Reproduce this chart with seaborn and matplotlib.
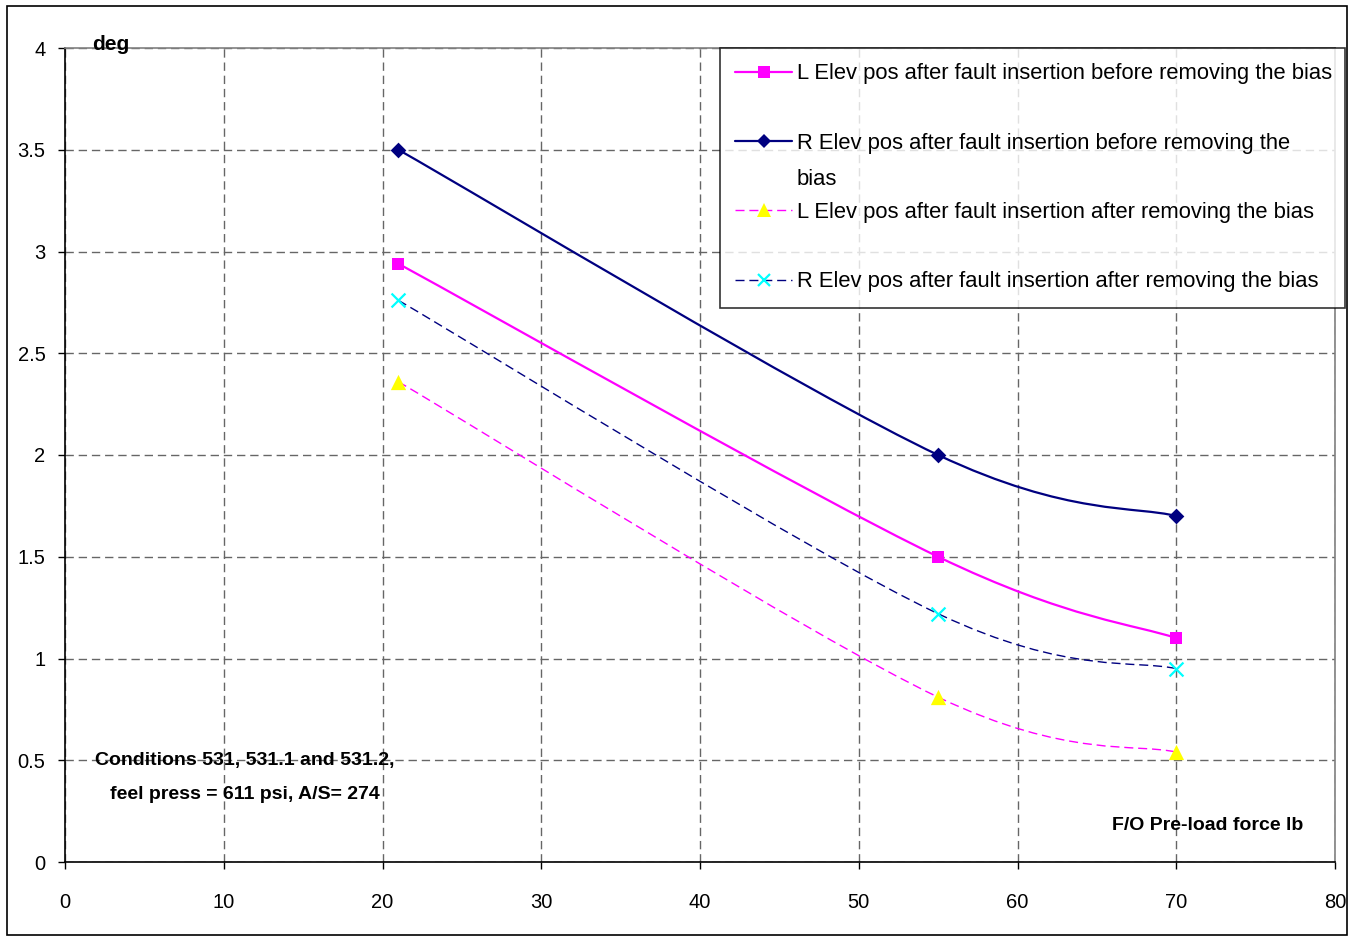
import numpy as np
import pandas as pd
import matplotlib
matplotlib.use("Agg")
import matplotlib.pyplot as plt
import seaborn as sns
from matplotlib import font_manager
from matplotlib.path import Path
from matplotlib.patches import PathPatch, Rectangle
from matplotlib.lines import Line2D

# data
preload = [21, 55, 70]
l_before = [2.94, 1.50, 1.10]
r_before = [3.50, 2.00, 1.70]
l_after = [2.36, 0.81, 0.54]
r_after = [2.76, 1.22, 0.95]
labels = [
    "L Elev pos after fault insertion before removing the bias",
    "R Elev pos after fault insertion before removing the",
    "L Elev pos after fault insertion after removing the bias",
    "R Elev pos after fault insertion after removing the bias",
]
x_ticks = [0, 10, 20, 30, 40, 50, 60, 70, 80]
y_ticks = [0, 0.5, 1, 1.5, 2, 2.5, 3, 3.5, 4]

sns.set_style("white")
names = {f.name for f in font_manager.fontManager.ttflist}
fam = "Liberation Sans"
for cand in ["Liberation Sans Narrow", "Arial Narrow", "Liberation Sans"]:
    if cand in names:
        fam = cand
        break
plt.rcParams["font.family"] = [fam, "DejaVu Sans"]
plt.rcParams["text.color"] = "black"
plt.rcParams["xtick.color"] = "black"
plt.rcParams["ytick.color"] = "black"

fig = plt.figure(figsize=(13.56, 9.41), dpi=100)
ax = fig.add_axes([65 / 1356, 79 / 941, 1270 / 1356, 814 / 941])

# outer chart border
fig.patches.append(Rectangle((7 / 1356, 6 / 941), 1340 / 1356, 929 / 941,
                             transform=fig.transFigure, fill=False,
                             edgecolor="black", lw=1.2))

dash = (0, (6.5, 3.5))
styles = [
    (l_before, "#FF00FF", "-", 1.6, "s", "#FF00FF", 9),
    (r_before, "#000080", "-", 1.6, "D", "#000080", 8),
    (l_after, "#FF00FF", dash, 1.0, "^", "#FFFF00", 11),
    (r_after, "#000080", dash, 1.0, "x", "#00FFFF", 10),
]


def smooth_path(xs, ys):
    # excel style smoothed line: cubic bezier through the points
    pts = np.column_stack([xs, ys]).astype(float)
    n = len(pts)
    verts = [pts[0]]
    codes = [Path.MOVETO]
    for i in range(n - 1):
        p0 = pts[max(i - 1, 0)]
        p1 = pts[i]
        p2 = pts[i + 1]
        p3 = pts[min(i + 2, n - 1)]
        verts += [p1 + (p2 - p0) / 6, p2 - (p3 - p1) / 6, p2]
        codes += [Path.CURVE4] * 3
    return Path(verts, codes)


handles = []
for (ys, lc, ls, lw, mk, mc, ms), lab in zip(styles, labels):
    ax.add_patch(PathPatch(smooth_path(preload, ys), fill=False,
                           edgecolor=lc, linestyle=ls, lw=lw, zorder=3))
    df = pd.DataFrame({"x": preload, "y": ys})
    sns.scatterplot(data=df, x="x", y="y", marker=mk, color=mc, s=ms ** 2,
                    linewidth=1.6 if mk == "x" else 0, ax=ax, zorder=4,
                    legend=False)
    handles.append(Line2D([], [], color=lc, linestyle=ls, lw=lw, marker=mk,
                          markerfacecolor=mc, markeredgecolor=mc,
                          markersize=ms - 1, markeredgewidth=1.6 if mk == "x" else 0))

ax.set_xlim(0, 80)
ax.set_ylim(0, 4)
ax.set_xticks(x_ticks)
ax.set_yticks(y_ticks)
ax.set_xticklabels([f"{v:g}" for v in x_ticks])
ax.set_yticklabels([f"{v:g}" for v in y_ticks])
ax.set_xlabel("")
ax.set_ylabel("")
ax.tick_params(axis="both", direction="out", length=5, width=1, color="black",
               labelsize=14.5, bottom=True, left=True)
ax.tick_params(axis="x", pad=17)
ax.tick_params(axis="y", pad=9)
ax.grid(True, color="#666666", linestyle=(0, (6, 3.5)), lw=1)
for s in ["left", "bottom"]:
    ax.spines[s].set_color("black")
    ax.spines[s].set_linewidth(1.2)
for s in ["top", "right"]:
    ax.spines[s].set_color("#808080")
    ax.spines[s].set_linewidth(1.2)

ax.text(0.021, 0.998, "deg", transform=ax.transAxes, fontsize=15,
        fontweight="bold", va="baseline", ha="left")
ax.text(11.3, 0.50, "Conditions 531, 531.1 and 531.2,", fontsize=14,
        fontweight="bold", ha="center", va="center")
ax.text(11.3, 0.33, "feel press = 611 psi, A/S= 274", fontsize=14,
        fontweight="bold", ha="center", va="center")
ax.text(72.0, 0.18, "F/O Pre-load force lb", fontsize=14, fontweight="bold",
        ha="center", va="center")

leg = ax.legend(handles, labels, loc="upper left",
                bbox_to_anchor=(655 / 1270, 0, 625 / 1270, 1.0),
                mode="expand", frameon=True, fancybox=False, fontsize=15.8,
                handlelength=2.6, handletextpad=0.2, labelspacing=2.2,
                borderpad=0.7, borderaxespad=0)
leg.get_frame().set_edgecolor("black")
leg.get_frame().set_linewidth(1.2)

fig.canvas.draw()
t2 = leg.get_texts()[1]
bb = t2.get_window_extent()
fig.text(bb.x0 / fig.bbox.width, ((bb.y0 + bb.y1) / 2 - 36) / fig.bbox.height,
         "bias", fontsize=15.8, va="center", ha="left")

fig.savefig("out.png", dpi=100)
